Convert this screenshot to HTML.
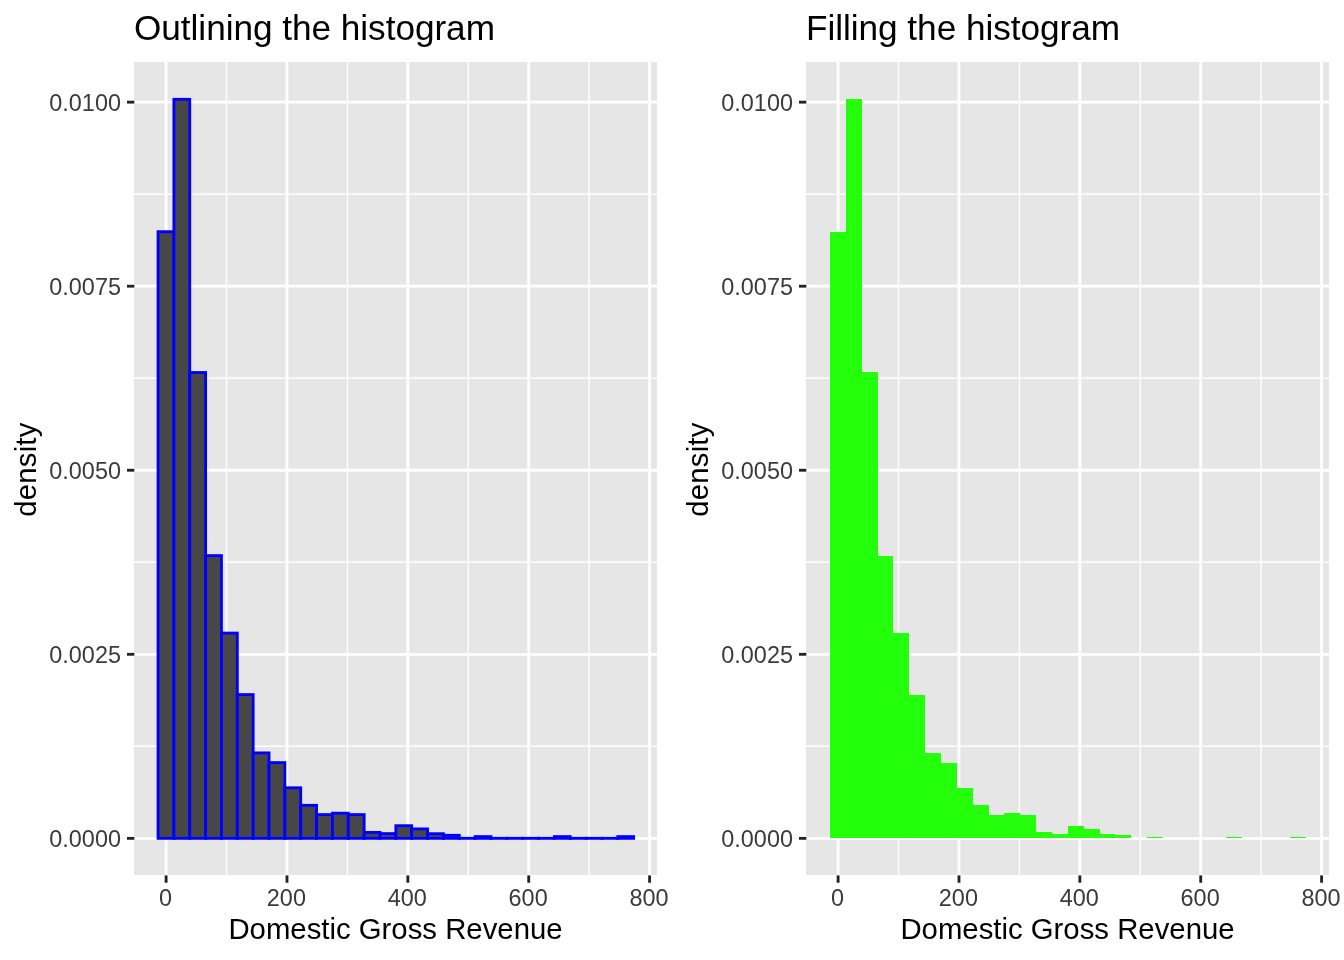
<!DOCTYPE html>
<html lang="en"><head><meta charset="utf-8"><title>Histograms</title>
<style>html,body{margin:0;padding:0;background:#fff}svg{display:block}text{font-family:'Liberation Sans', Arial, Helvetica, sans-serif}</style></head><body>
<svg width="1344" height="960" viewBox="0 0 1344 960">
<rect width="1344" height="960" fill="#fff"/>
<g transform="translate(0,0)">
<rect x="134" y="62" width="523" height="813" fill="#e6e6e6"/>
<g stroke="#fff" stroke-width="1.42" shape-rendering="auto">
<line x1="134" x2="657" y1="194.18" y2="194.18"/>
<line x1="134" x2="657" y1="378.23" y2="378.23"/>
<line x1="134" x2="657" y1="562.27" y2="562.27"/>
<line x1="134" x2="657" y1="746.33" y2="746.33"/>
<line x1="226.54" x2="226.54" y1="62" y2="875"/>
<line x1="347.41" x2="347.41" y1="62" y2="875"/>
<line x1="468.29" x2="468.29" y1="62" y2="875"/>
<line x1="589.16" x2="589.16" y1="62" y2="875"/>
</g>
<g stroke="#fff" stroke-width="2.84">
<line x1="134" x2="657" y1="102.15" y2="102.15"/>
<line x1="134" x2="657" y1="286.2" y2="286.2"/>
<line x1="134" x2="657" y1="470.25" y2="470.25"/>
<line x1="134" x2="657" y1="654.3" y2="654.3"/>
<line x1="134" x2="657" y1="838.35" y2="838.35"/>
<line x1="166.1" x2="166.1" y1="62" y2="875"/>
<line x1="286.98" x2="286.98" y1="62" y2="875"/>
<line x1="407.85" x2="407.85" y1="62" y2="875"/>
<line x1="528.73" x2="528.73" y1="62" y2="875"/>
<line x1="649.6" x2="649.6" y1="62" y2="875"/>
</g>
<g fill="#474747" stroke="#0000ff" stroke-width="2.84" stroke-linejoin="miter">
<rect x="158.05" y="231.7" width="15.85" height="606.65"/>
<rect x="173.9" y="99.3" width="15.85" height="739.05"/>
<rect x="189.76" y="372.5" width="15.85" height="465.85"/>
<rect x="205.61" y="555.6" width="15.85" height="282.75"/>
<rect x="221.46" y="633.1" width="15.85" height="205.25"/>
<rect x="237.31" y="694.6" width="15.85" height="143.75"/>
<rect x="253.17" y="752.9" width="15.85" height="85.45"/>
<rect x="269.02" y="762.6" width="15.85" height="75.75"/>
<rect x="284.87" y="787.8" width="15.85" height="50.55"/>
<rect x="300.73" y="805.3" width="15.85" height="33.05"/>
<rect x="316.58" y="814.6" width="15.85" height="23.75"/>
<rect x="332.43" y="813.2" width="15.85" height="25.15"/>
<rect x="348.29" y="814.6" width="15.85" height="23.75"/>
<rect x="364.14" y="832.4" width="15.85" height="5.95"/>
<rect x="379.99" y="833.6" width="15.85" height="4.75"/>
<rect x="395.85" y="825.7" width="15.85" height="12.65"/>
<rect x="411.7" y="828.9" width="15.85" height="9.45"/>
<rect x="427.55" y="833.7" width="15.85" height="4.65"/>
<rect x="443.4" y="835.3" width="15.85" height="3.05"/>
<rect x="459.26" y="838.3" width="15.85" height="0.05"/>
<rect x="475.11" y="836.6" width="15.85" height="1.75"/>
<rect x="490.96" y="838.3" width="15.85" height="0.05"/>
<rect x="506.82" y="838.3" width="15.85" height="0.05"/>
<rect x="522.67" y="838.3" width="15.85" height="0.05"/>
<rect x="538.52" y="838.3" width="15.85" height="0.05"/>
<rect x="554.38" y="836.6" width="15.85" height="1.75"/>
<rect x="570.23" y="838.3" width="15.85" height="0.05"/>
<rect x="586.08" y="838.3" width="15.85" height="0.05"/>
<rect x="601.93" y="838.3" width="15.85" height="0.05"/>
<rect x="617.79" y="836.6" width="15.85" height="1.75"/>
</g>
<g stroke="#222222" stroke-width="2.84">
<line x1="127" x2="134.33" y1="102.15" y2="102.15"/>
<line x1="127" x2="134.33" y1="286.2" y2="286.2"/>
<line x1="127" x2="134.33" y1="470.25" y2="470.25"/>
<line x1="127" x2="134.33" y1="654.3" y2="654.3"/>
<line x1="127" x2="134.33" y1="838.35" y2="838.35"/>
<line x1="166.1" x2="166.1" y1="875.4" y2="882.73"/>
<line x1="286.98" x2="286.98" y1="875.4" y2="882.73"/>
<line x1="407.85" x2="407.85" y1="875.4" y2="882.73"/>
<line x1="528.73" x2="528.73" y1="875.4" y2="882.73"/>
<line x1="649.6" x2="649.6" y1="875.4" y2="882.73"/>
</g>
<g fill="#3b3b3b" font-size="23.47">
<text transform="translate(121,110.9) scale(1,1.027)" text-anchor="end">0.0100</text>
<text transform="translate(121,294.95) scale(1,1.027)" text-anchor="end">0.0075</text>
<text transform="translate(121,479) scale(1,1.027)" text-anchor="end">0.0050</text>
<text transform="translate(121,663.05) scale(1,1.027)" text-anchor="end">0.0025</text>
<text transform="translate(121,847.1) scale(1,1.027)" text-anchor="end">0.0000</text>
<text transform="translate(165.5,905.7) scale(1,1.027)" text-anchor="middle">0</text>
<text transform="translate(286.38,905.7) scale(1,1.027)" text-anchor="middle">200</text>
<text transform="translate(407.25,905.7) scale(1,1.027)" text-anchor="middle">400</text>
<text transform="translate(528.12,905.7) scale(1,1.027)" text-anchor="middle">600</text>
<text transform="translate(649,905.7) scale(1,1.027)" text-anchor="middle">800</text>
</g>
<text x="395.5" y="939" text-anchor="middle" font-size="29.33" fill="#000">Domestic Gross Revenue</text>
<text transform="translate(36,469.6) rotate(-90)" text-anchor="middle" font-size="29.33" letter-spacing="0.2" fill="#000">density</text>
<text x="134" y="39.6" font-size="35.2" letter-spacing="-0.04" fill="#000">Outlining the histogram</text>
</g>
<g transform="translate(672,0)">
<rect x="134" y="62" width="523" height="813" fill="#e6e6e6"/>
<g stroke="#fff" stroke-width="1.42" shape-rendering="auto">
<line x1="134" x2="657" y1="194.18" y2="194.18"/>
<line x1="134" x2="657" y1="378.23" y2="378.23"/>
<line x1="134" x2="657" y1="562.27" y2="562.27"/>
<line x1="134" x2="657" y1="746.33" y2="746.33"/>
<line x1="226.54" x2="226.54" y1="62" y2="875"/>
<line x1="347.41" x2="347.41" y1="62" y2="875"/>
<line x1="468.29" x2="468.29" y1="62" y2="875"/>
<line x1="589.16" x2="589.16" y1="62" y2="875"/>
</g>
<g stroke="#fff" stroke-width="2.84">
<line x1="134" x2="657" y1="102.15" y2="102.15"/>
<line x1="134" x2="657" y1="286.2" y2="286.2"/>
<line x1="134" x2="657" y1="470.25" y2="470.25"/>
<line x1="134" x2="657" y1="654.3" y2="654.3"/>
<line x1="134" x2="657" y1="838.35" y2="838.35"/>
<line x1="166.1" x2="166.1" y1="62" y2="875"/>
<line x1="286.98" x2="286.98" y1="62" y2="875"/>
<line x1="407.85" x2="407.85" y1="62" y2="875"/>
<line x1="528.73" x2="528.73" y1="62" y2="875"/>
<line x1="649.6" x2="649.6" y1="62" y2="875"/>
</g>
<path fill="#24ff0b" shape-rendering="crispEdges" d="M158 838 V232 H174 V99 H190 V372 H206 V556 H221 V633 H237 V695 H253 V753 H269 V763 H285 V788 H301 V805 H317 V815 H332 V813 H348 V815 H364 V832 H380 V834 H396 V826 H412 V829 H428 V834 H443 V835 H459 V838 Z M475 838 V837 H491 V838 Z M554 838 V837 H570 V838 Z M618 838 V837 H634 V838 Z"/>
<g stroke="#222222" stroke-width="2.84">
<line x1="127" x2="134.33" y1="102.15" y2="102.15"/>
<line x1="127" x2="134.33" y1="286.2" y2="286.2"/>
<line x1="127" x2="134.33" y1="470.25" y2="470.25"/>
<line x1="127" x2="134.33" y1="654.3" y2="654.3"/>
<line x1="127" x2="134.33" y1="838.35" y2="838.35"/>
<line x1="166.1" x2="166.1" y1="875.4" y2="882.73"/>
<line x1="286.98" x2="286.98" y1="875.4" y2="882.73"/>
<line x1="407.85" x2="407.85" y1="875.4" y2="882.73"/>
<line x1="528.73" x2="528.73" y1="875.4" y2="882.73"/>
<line x1="649.6" x2="649.6" y1="875.4" y2="882.73"/>
</g>
<g fill="#3b3b3b" font-size="23.47">
<text transform="translate(121,110.9) scale(1,1.027)" text-anchor="end">0.0100</text>
<text transform="translate(121,294.95) scale(1,1.027)" text-anchor="end">0.0075</text>
<text transform="translate(121,479) scale(1,1.027)" text-anchor="end">0.0050</text>
<text transform="translate(121,663.05) scale(1,1.027)" text-anchor="end">0.0025</text>
<text transform="translate(121,847.1) scale(1,1.027)" text-anchor="end">0.0000</text>
<text transform="translate(165.5,905.7) scale(1,1.027)" text-anchor="middle">0</text>
<text transform="translate(286.38,905.7) scale(1,1.027)" text-anchor="middle">200</text>
<text transform="translate(407.25,905.7) scale(1,1.027)" text-anchor="middle">400</text>
<text transform="translate(528.12,905.7) scale(1,1.027)" text-anchor="middle">600</text>
<text transform="translate(649,905.7) scale(1,1.027)" text-anchor="middle">800</text>
</g>
<text x="395.5" y="939" text-anchor="middle" font-size="29.33" fill="#000">Domestic Gross Revenue</text>
<text transform="translate(36,469.6) rotate(-90)" text-anchor="middle" font-size="29.33" letter-spacing="0.2" fill="#000">density</text>
<text x="134" y="39.6" font-size="35.2" letter-spacing="-0.04" fill="#000">Filling the histogram</text>
</g>
</svg></body></html>
